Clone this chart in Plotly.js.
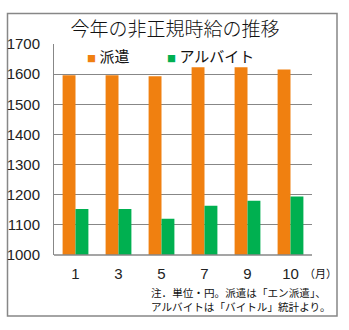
<!DOCTYPE html>
<html>
<head>
<meta charset="utf-8">
<script src="https://cdn.plot.ly/plotly-3.0.1.min.js"></script>
<style>html,body{margin:0;padding:0;background:#fff;}#chart{width:349px;height:330px;}</style>
</head>
<body>
<div id="chart"></div>
<script>
const months = ['1', '3', '5', '7', '9', '10'];
const seriesNames = ['派遣', 'アルバイト'];
const hakenWage = [1596, 1596, 1593, 1623, 1623, 1615];
const baitoWage = [1153, 1153, 1120, 1163, 1180, 1194];
const seriesColors = ['#F08010', '#00B050'];
const titleText = '今年の非正規時給の推移';
const unitText = '（月）';
const noteLines = ['注．単位・円。派遣は「エン派遣」、', 'アルバイトは「バイトル」統計より。'];

const jp = '"Noto Sans CJK JP", "Noto Sans", sans-serif';
const num = '"Liberation Sans", Arial, sans-serif';

const traces = [
  {type: 'bar', x: months, y: hakenWage, name: seriesNames[0], marker: {color: seriesColors[0]}, hoverinfo: 'none'},
  {type: 'bar', x: months, y: baitoWage, name: seriesNames[1], marker: {color: seriesColors[1]}, hoverinfo: 'none'}
];

// plot area: x 54..312, y 44..255
const W = 258, H = 211;
const px = v => (v - 54) / W;
const py = v => (255 - v) / H;

const noteAnns = noteLines.map((t, i) => ({
  xref: 'paper', yref: 'paper', x: px(150), y: py(292 + i * 14.5), xanchor: 'left', yanchor: 'middle',
  showarrow: false, borderpad: 0, text: t, font: {family: jp, size: 10.6, color: '#111'}
}));

const layout = {
  width: 349, height: 330,
  margin: {l: 54, r: 37, t: 44, b: 75, pad: 0},
  paper_bgcolor: '#fff', plot_bgcolor: '#fff',
  showlegend: false,
  barmode: 'group', bargap: 0.4, bargroupgap: 0,
  title: {text: titleText, font: {family: jp, size: 19, color: '#111', weight: 300}, x: 175/349, xanchor: 'center', xref: 'container', y: 1 - 29/330, yanchor: 'middle', yref: 'container'},
  xaxis: {
    type: 'category', showgrid: false, zeroline: false,
    showline: false, ticks: '',
    tickfont: {family: num, size: 15, color: '#222'}, ticklen: 0, ticklabelstandoff: 8
  },
  yaxis: {
    range: [1000, 1700], dtick: 100, tick0: 1000,
    showgrid: true, gridcolor: '#878787', gridwidth: 1,
    zeroline: false, showline: true, linecolor: '#878787', linewidth: 1,
    ticks: '', tickfont: {family: num, size: 15, color: '#222'}, ticklabelstandoff: 10
  },
  shapes: [
    {type: 'rect', xref: 'paper', yref: 'paper', x0: px(7.5), x1: px(337), y0: py(316), y1: py(13.5), line: {color: '#878787', width: 1.5}, fillcolor: 'rgba(0,0,0,0)', layer: 'below'},
    {type: 'line', xref: 'paper', yref: 'paper', x0: 0, x1: 1, y0: 0, y1: 0, line: {color: '#878787', width: 1.5}}
  ],
  annotations: [
    {xref: 'paper', yref: 'paper', x: px(85), y: py(55.5), xanchor: 'left', yanchor: 'middle', showarrow: false,
     text: '<span style="color:' + seriesColors[0] + ';font-size:9px">■</span> ' + seriesNames[0], font: {family: jp, size: 15, color: '#111'}},
    {xref: 'paper', yref: 'paper', x: px(164.5), y: py(55.5), xanchor: 'left', yanchor: 'middle', showarrow: false,
     text: '<span style="color:' + seriesColors[1] + ';font-size:9px">■</span> ' + seriesNames[1], font: {family: jp, size: 15, color: '#111'}},
    {xref: 'paper', yref: 'paper', x: px(320), y: py(273), xanchor: 'center', yanchor: 'middle', showarrow: false,
     text: unitText, font: {family: jp, size: 11, color: '#111'}}
  ].concat(noteAnns)
};

Plotly.newPlot('chart', traces, layout, {staticPlot: true, displayModeBar: false});
</script>
</body>
</html>
